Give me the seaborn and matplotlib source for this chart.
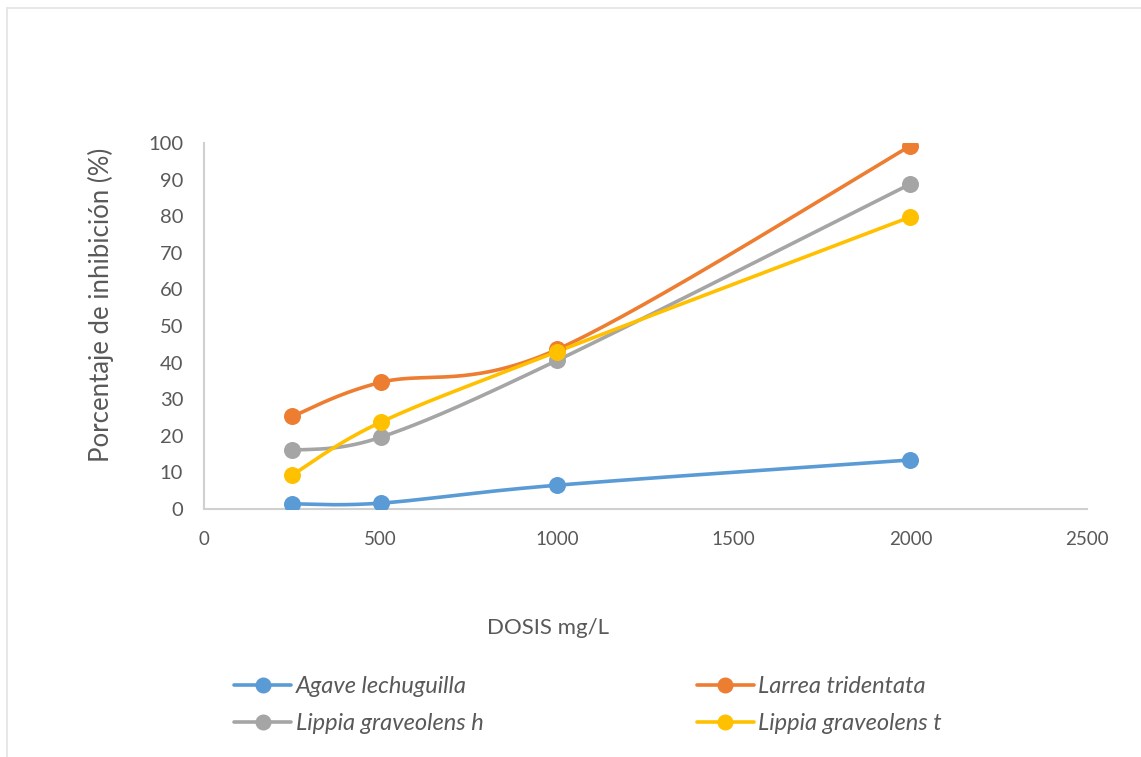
import numpy as np
import pandas as pd
import matplotlib
matplotlib.use("Agg")
import matplotlib.pyplot as plt
from matplotlib.lines import Line2D
import seaborn as sns

# Dose levels (mg/L) and percentage of inhibition per extract
dosis = [250, 500, 1000, 2000]
agave_lechuguilla = [1.4, 1.6, 6.5, 13.4]
larrea_tridentata = [25.3, 34.6, 43.6, 99.2]
lippia_graveolens_h = [16.0, 19.6, 40.6, 88.8]
lippia_graveolens_t = [9.3, 23.7, 43.0, 79.8]

series_names = ["Agave lechuguilla", "Larrea tridentata",
                "Lippia graveolens h", "Lippia graveolens t"]
series_values = [agave_lechuguilla, larrea_tridentata,
                 lippia_graveolens_h, lippia_graveolens_t]
colors = ["#5B9BD5", "#ED7D31", "#A5A5A5", "#FFC000"]

x_ticks = [0, 500, 1000, 1500, 2000, 2500]
y_ticks = [0, 10, 20, 30, 40, 50, 60, 70, 80, 90, 100]

sns.set_theme(style="white")
plt.rcParams["font.family"] = ["Lato", "DejaVu Sans"]

text_gray = "#595959"
axis_gray = "#D0D0D0"

W, H = 1141, 757
fig = plt.figure(figsize=(W / 100, H / 100), dpi=100)
ax = fig.add_axes([204 / W, 1 - 509 / H, (1087 - 204) / W, (509 - 143) / H])
ax.set_xlim(0, 2500)
ax.set_ylim(0, 100)


def smooth_curve(xs, ys, n=60):
    """Cardinal (Catmull-Rom style) Bezier smoothing computed in display space."""
    pts = ax.transData.transform(np.column_stack([xs, ys]))
    out = [pts[0]]
    for i in range(len(pts) - 1):
        p0 = pts[i - 1] if i > 0 else pts[i]
        p1, p2 = pts[i], pts[i + 1]
        p3 = pts[i + 2] if i + 2 < len(pts) else pts[i + 1]
        c1 = p1 + (p2 - p0) / 6.0
        c2 = p2 - (p3 - p1) / 6.0
        t = np.linspace(0, 1, n)[1:, None]
        seg = ((1 - t) ** 3) * p1 + 3 * ((1 - t) ** 2) * t * c1 \
            + 3 * (1 - t) * t ** 2 * c2 + t ** 3 * p2
        out.extend(seg)
    out = np.array(out)
    return ax.transData.inverted().transform(out)


for name, vals, col in zip(series_names, series_values, colors):
    curve = smooth_curve(np.array(dosis, float), np.array(vals, float))
    df_curve = pd.DataFrame({"x": curve[:, 0], "y": curve[:, 1]})
    sns.lineplot(data=df_curve, x="x", y="y", ax=ax, color=col,
                 linewidth=2.6, sort=False, estimator=None, zorder=3)
    df_pts = pd.DataFrame({"x": dosis, "y": vals})
    sns.scatterplot(data=df_pts, x="x", y="y", ax=ax, color=col, s=150,
                    edgecolor=col, linewidth=0, zorder=4)

ax.set_xticks(x_ticks)
ax.set_yticks(y_ticks)
ax.set_xticklabels([str(v) for v in x_ticks])
ax.set_yticklabels([str(v) for v in y_ticks])
ax.tick_params(axis="both", length=0, colors=text_gray)
ax.tick_params(axis="x", pad=16, labelsize=13.5)
ax.tick_params(axis="y", pad=15, labelsize=14.5)

for side in ["top", "right"]:
    ax.spines[side].set_visible(False)
for side in ["left", "bottom"]:
    ax.spines[side].set_color(axis_gray)
    ax.spines[side].set_linewidth(1.5)

ax.set_xlabel("DOSIS mg/L", fontsize=16, color=text_gray, labelpad=0)
ax.xaxis.set_label_coords((548 - 204) / (1087 - 204), -(618 - 509) / (509 - 143))
ax.set_ylabel("Porcentaje de inhibición (%)", fontsize=18.5, color=text_gray)
ax.yaxis.set_label_coords(-(204 - 114) / (1087 - 204), (509 - 305) / (509 - 143))

handles = [Line2D([0], [0], color=c, linewidth=2.6, marker="o", markersize=10.5)
           for c in colors]
order = [0, 2, 1, 3]
leg = fig.legend([handles[i] for i in order], [series_names[i] for i in order],
                 loc="upper left", bbox_to_anchor=(213 / W, 1 - 655 / H),
                 ncol=2, frameon=False, handlelength=2.4, handletextpad=0.2,
                 columnspacing=9.05, labelspacing=0.66,
                 prop={"size": 17, "style": "italic"})
for t in leg.get_texts():
    t.set_color(text_gray)

# outer chart frame (top and left edges)
fig.add_artist(Line2D([7 / W, 1], [1 - 8 / H, 1 - 8 / H], color="#E3E3E3",
                      linewidth=1.2, transform=fig.transFigure))
fig.add_artist(Line2D([7 / W, 7 / W], [0, 1 - 8 / H], color="#E3E3E3",
                      linewidth=1.2, transform=fig.transFigure))

fig.savefig("out.png", dpi=100, facecolor="white")
